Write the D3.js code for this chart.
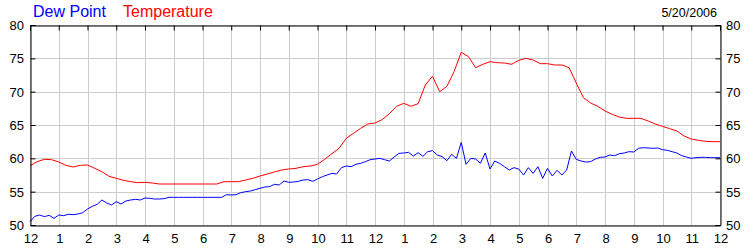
<!DOCTYPE html>
<html>
<head>
<meta charset="utf-8">
<script src="https://cdn.jsdelivr.net/npm/d3@7"></script>
<style>
  html, body { margin: 0; padding: 0; background: #fff; }
  svg text { font-family: "Liberation Sans", Arial, sans-serif; }
</style>
</head>
<body>
<div id="chart"></div>
<script>
// readings, one day (5/20/2006)
const dateLabel = '5/20/2006';
const hourLabels = ['12', '1', '2', '3', '4', '5', '6', '7', '8', '9', '10', '11',
                    '12', '1', '2', '3', '4', '5', '6', '7', '8', '9', '10', '11', '12'];
const yTicks = [50, 55, 60, 65, 70, 75, 80];

// temperature, every 15 minutes from midnight
const tempStepMin = 15;
const temperature = [
  58.9, 59.5, 59.85, 59.8,
  59.45, 58.95, 58.7, 58.95,
  59.0, 58.5, 58.0, 57.3,
  57.0, 56.7, 56.5, 56.35,
  56.4, 56.3, 56.15, 56.15,
  56.15, 56.15, 56.15, 56.15,
  56.15, 56.15, 56.15, 56.5,
  56.5, 56.5, 56.75, 57.0,
  57.35, 57.65, 57.95, 58.25,
  58.4, 58.5, 58.75, 58.85,
  59.1, 59.85, 60.7, 61.5,
  63.0, 63.75, 64.5, 65.15,
  65.3, 65.8, 66.7, 67.8,
  68.25, 67.8, 68.2, 71.0,
  72.3, 70.0, 70.8, 73.0,
  75.9, 75.25, 73.6, 74.1,
  74.5, 74.35, 74.3, 74.1,
  74.7, 75.0, 74.75, 74.2,
  74.2, 74.0, 74.0, 73.6,
  71.3, 69.1, 68.3, 67.8,
  67.1, 66.6, 66.2, 66.0,
  66.0, 66.0, 65.6, 65.15,
  64.8, 64.45, 64.1, 63.35,
  62.9, 62.7, 62.55, 62.5,
  62.5
];

// dew point, every 10 minutes from midnight
const dewStepMin = 10;
const dewPoint = [
  50.5, 51.3, 51.5, 51.25, 51.45, 51.0,
  51.5, 51.4, 51.6, 51.55, 51.65, 51.85,
  52.4, 52.8, 53.1, 53.75, 53.3, 53.0,
  53.5, 53.15, 53.6, 53.75, 53.85, 53.75,
  54.05, 54.0, 53.9, 53.9, 53.95, 54.15,
  54.15, 54.15, 54.15, 54.15, 54.15, 54.15,
  54.15, 54.15, 54.15, 54.15, 54.15, 54.55,
  54.5, 54.55, 54.85, 55.0, 55.1, 55.3,
  55.5, 55.7, 55.75, 56.1, 56.0, 56.6,
  56.4, 56.45, 56.55, 56.75, 56.8, 56.55,
  56.9, 57.25, 57.5, 57.75, 57.65, 58.6,
  58.85, 58.75, 59.1, 59.25, 59.5, 59.8,
  59.9, 60.0, 59.8, 59.6, 60.2, 60.75,
  60.8, 60.9, 60.35, 60.85, 60.3, 61.0,
  61.15, 60.5, 60.25, 59.65, 60.6, 60.0,
  62.4, 59.1, 60.0, 59.9, 59.25, 60.8,
  58.4, 59.6, 59.25, 58.75, 58.25, 58.6,
  58.4, 57.5, 58.6, 57.75, 58.75, 57.0,
  58.5, 57.35, 58.2, 57.5, 58.25, 61.1,
  59.85, 59.6, 59.45, 59.5, 59.9, 60.15,
  60.2, 60.5, 60.4, 60.7, 60.8, 61.0,
  60.95, 61.5, 61.6, 61.55, 61.5, 61.55,
  61.3, 61.2, 61.0, 60.8, 60.4, 60.2,
  60.0, 60.1, 60.15, 60.15, 60.1, 60.1,
  60.1
];

const W = 750, H = 250;
const margin = { top: 25, right: 30, bottom: 25, left: 30 };
const pw = W - margin.left - margin.right;
const ph = H - margin.top - margin.bottom;

const svg = d3.select('#chart').append('svg')
  .attr('width', W)
  .attr('height', H);

const g = svg.append('g')
  .attr('transform', 'translate(' + margin.left + ',' + margin.top + ')');

const x = d3.scaleLinear().domain([0, 24]).range([0, pw]);
const y = d3.scaleLinear().domain([50, 80]).range([ph, 0]);
const hours = d3.range(hourLabels.length);

// grid
g.append('g')
  .selectAll('line')
  .data(hours)
  .join('line')
  .attr('x1', d => Math.round(x(d)) + 0.5)
  .attr('x2', d => Math.round(x(d)) + 0.5)
  .attr('y1', 0).attr('y2', ph)
  .attr('stroke', '#cccccc');

g.append('g')
  .selectAll('line')
  .data(yTicks)
  .join('line')
  .attr('y1', d => Math.round(y(d)) + 0.5)
  .attr('y2', d => Math.round(y(d)) + 0.5)
  .attr('x1', 0).attr('x2', pw)
  .attr('stroke', '#cccccc');

// lines
const lineT = d3.line()
  .x((d, i) => x(i * tempStepMin / 60))
  .y(d => y(d));
const lineD = d3.line()
  .x((d, i) => x(i * dewStepMin / 60))
  .y(d => y(d));

g.append('path')
  .datum(dewPoint)
  .attr('d', lineD)
  .attr('fill', 'none')
  .attr('stroke', '#0000ff')
  .attr('stroke-width', 1);

g.append('path')
  .datum(temperature)
  .attr('d', lineT)
  .attr('fill', 'none')
  .attr('stroke', '#ff0000')
  .attr('stroke-width', 1);

// axes: ticks point inward, labels placed by hand
const axisFont = 13;
const axLeft = g.append('g').attr('transform', 'translate(0.5,0)')
  .call(d3.axisRight(y).tickValues(yTicks).tickSize(5).tickFormat(''));
const axRight = g.append('g').attr('transform', 'translate(' + (pw + 0.5) + ',0)')
  .call(d3.axisLeft(y).tickValues(yTicks).tickSize(5).tickFormat(''));
const axTop = g.append('g').attr('transform', 'translate(0,0.5)')
  .call(d3.axisBottom(x).tickValues(hours).tickSize(5).tickFormat(''));
const axBottom = g.append('g').attr('transform', 'translate(0,' + (ph + 0.5) + ')')
  .call(d3.axisTop(x).tickValues(hours).tickSize(0).tickFormat(''));

[axLeft, axRight, axTop, axBottom].forEach(a => {
  a.select('.domain').attr('stroke', '#000');
  a.selectAll('.tick line').attr('stroke', '#000');
});

g.append('g').selectAll('text')
  .data(yTicks)
  .join('text')
  .attr('x', -6)
  .attr('y', d => y(d) + 5)
  .attr('text-anchor', 'end')
  .attr('font-size', axisFont)
  .attr('fill', '#000')
  .text(d => d);

g.append('g').selectAll('text')
  .data(yTicks)
  .join('text')
  .attr('x', pw + 6)
  .attr('y', d => y(d) + 5)
  .attr('font-size', axisFont)
  .attr('fill', '#000')
  .text(d => d);

g.append('g').selectAll('text')
  .data(hours)
  .join('text')
  .attr('x', d => x(d) + 1)
  .attr('y', ph + 18)
  .attr('text-anchor', 'middle')
  .attr('font-size', axisFont)
  .attr('fill', '#000')
  .text(d => hourLabels[d]);

// legend + date
svg.append('text')
  .attr('x', 33).attr('y', 17)
  .attr('font-size', 16)
  .attr('fill', '#0000ff')
  .text('Dew Point');
svg.append('text')
  .attr('x', 123).attr('y', 17)
  .attr('font-size', 16)
  .attr('fill', '#ff0000')
  .text('Temperature');
svg.append('text')
  .attr('x', 717).attr('y', 17)
  .attr('text-anchor', 'end')
  .attr('font-size', 12.5)
  .attr('fill', '#000')
  .text(dateLabel);
</script>
</body>
</html>
